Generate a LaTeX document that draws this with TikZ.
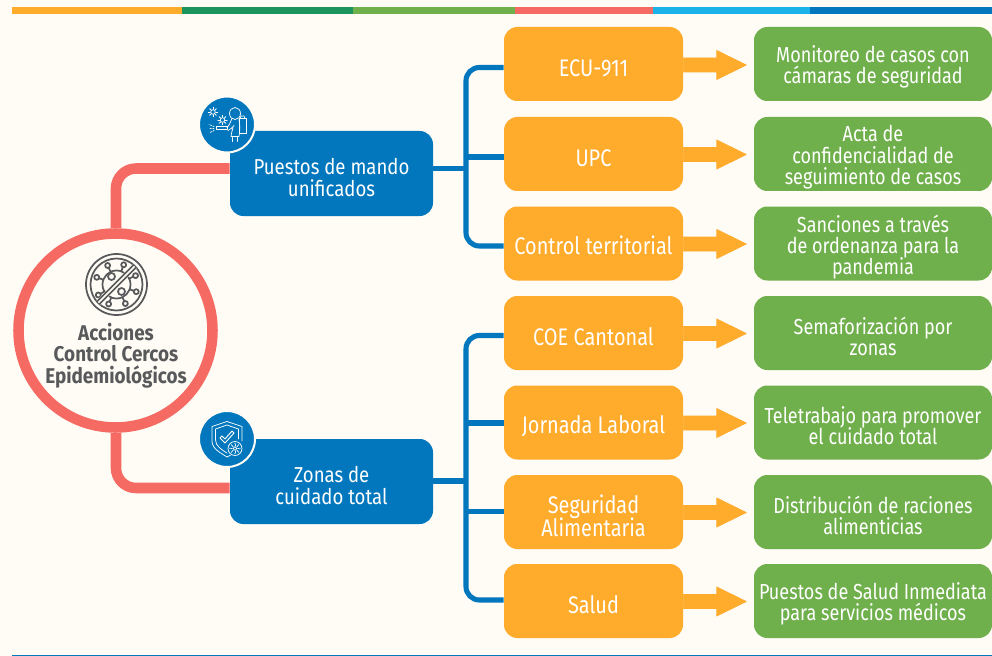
\documentclass[tikz,border=0pt]{standalone}
\usepackage{fontspec}
\setmainfont[FakeStretch=0.83]{Fira Sans}
\newfontfamily\boldf[FakeStretch=0.885]{Fira Sans}
\newfontfamily\medf[FakeStretch=0.83]{Fira Sans}
\newfontfamily\bluef[FakeStretch=0.86]{Fira Sans}
\definecolor{bgc}{HTML}{FFFBF5}
\definecolor{orng}{HTML}{FFAB2B}
\definecolor{grn}{HTML}{70B04C}
\definecolor{dgrn}{HTML}{1C945E}
\definecolor{rd}{HTML}{F56B64}
\definecolor{lblue}{HTML}{1AB2E8}
\definecolor{blu}{HTML}{0277BD}
\definecolor{gry}{HTML}{58595B}
\newcommand{\fs}[2]{\fontsize{#1}{#2}\selectfont}
\tikzset{
 x=0.75pt,y=-0.75pt,
 base/.style={rectangle,rounded corners=10pt,inner sep=0},
 txt/.style={inner sep=0,align=center,text=white,execute at begin node={\lineskiplimit=-100pt\relax}},
 orbox/.style={base,fill=orng,minimum width=134.25pt,minimum height=55.5pt},
 grbox/.style={base,fill=grn,minimum width=178.5pt,minimum height=55.5pt},
 blbox/.style={base,fill=blu,minimum width=152.25pt,minimum height=63.75pt},
 ortxt/.style={txt,font=\medf\fs{18}{17.25}},
 grtxt/.style={txt,font=\fs{16.3}{15.8}},
 bltxt/.style={txt,font=\bluef\fs{16.2}{15.8}},
 redl/.style={draw=rd,line width=7.9pt,rounded corners=15pt},
 bluel/.style={draw=blu,line width=3.8pt,rounded corners=10pt},
 bluestem/.style={draw=blu,line width=3.8pt},
 arr/.style={fill=orng,draw=orng,line width=0.5pt,line join=round},
 ic/.style={draw=white,line width=0.55pt,line cap=round,line join=round},
 vi/.style={draw=gry,line width=1.3pt,line cap=round,line join=round},
}
% #1 box style, #2 text style, #3 name, #4 x, #5 y, #6 text drop, #7 text
\newcommand{\bx}[7]{\node[#1] (#3) at (#4,#5) {};
 \node[#2,yshift=-#6] (#3t) at (#3.center) {#7};}
\newcommand{\arrowfrom}[2]{\coordinate (tmpy) at (0,#2);
 \path[arr] (#1.east |- tmpy) ++(0,-7) -- ++(33.5,0) -- ++(0,-7.5) -- ++(29.5,14.5) -- ++(-29.5,14.5) -- ++(0,-7.5) -- ++(-33.5,0) -- cycle;}
\begin{document}
\begin{tikzpicture}
\useasboundingbox (0,0) rectangle (992,656);
\fill[bgc] (0,0) rectangle (992,656);
\fill[orng] (12,7) rectangle (182,14);
\fill[dgrn] (182,7) rectangle (353,14);
\fill[grn] (353,7) rectangle (515,14);
\fill[rd] (515,7) rectangle (653,14);
\fill[lblue] (653,7) rectangle (810,14);
\fill[blu] (810,7) rectangle (992,14);
\draw[blu,line width=0.75pt] (12,655.5) -- (992,655.5);

% hub
\node[circle,draw=rd,line width=7.9pt,fill=bgc,minimum size=145.5pt,inner sep=0] (hub) at (115.5,330.5) {};
\node[font=\boldf\bfseries\fs{16}{16.3},text=gry,align=center,inner sep=0] (hubt) at (116,355.5) {Acciones\\Control Cercos\\Epidemiológicos};

% blue boxes
\bx{blbox}{bltxt}{p1}{331.5}{173.5}{3pt}{Puestos de mando\\unificados}
\bx{blbox}{bltxt}{p2}{331.5}{481.5}{3pt}{Zonas de\\cuidado total}

% orange
\bx{orbox}{ortxt}{a1}{593.5}{64}{3pt}{ECU-911}
\bx{orbox}{ortxt}{a2}{593.5}{154}{3pt}{UPC}
\bx{orbox}{ortxt}{a3}{593.5}{243.5}{1.2pt}{Control territorial}
\bx{orbox}{ortxt}{a4}{593.5}{333}{3pt}{COE Cantonal}
\bx{orbox}{ortxt}{a5}{593.5}{422.5}{3pt}{Jornada Laboral}
\bx{orbox}{ortxt}{a6}{593.5}{512}{2.6pt}{Seguridad\\Alimentaria}
\bx{orbox}{ortxt}{a7}{593.5}{601}{3pt}{Salud}

% green
\bx{grbox}{grtxt}{g1}{873}{64}{2.4pt}{Monitoreo de casos con\\cámaras de seguridad}
\bx{grbox}{grtxt}{g2}{873}{154}{2.4pt}{Acta de\\confidencialidad de\\seguimiento de casos}
\bx{grbox}{grtxt}{g3}{873}{243.5}{2.4pt}{Sanciones a través\\de ordenanza para la\\pandemia}
\bx{grbox}{grtxt}{g4}{873}{333}{2.4pt}{Semaforización por\\zonas}
\bx{grbox}{grtxt}{g5}{873}{422.5}{2.4pt}{Teletrabajo para promover\\el cuidado total}
\bx{grbox}{grtxt}{g6}{873}{512}{2.4pt}{Distribución de raciones\\alimenticias}
\bx{grbox}{grtxt}{g7}{873}{601}{2.4pt}{Puestos de Salud Inmediata\\para servicios médicos}

% connectors
\coordinate (c1) at (116,168.5);
\coordinate (c2) at (116,488);
\draw[redl] (hub.north -| c1) -- (c1) -- (p1.west |- c1);
\draw[redl] (hub.south -| c2) -- (c2) -- (p2.west |- c2);
\coordinate (t1) at (466,67.5);
\coordinate (m1) at (466,157);
\coordinate (s1) at (466,168.5);
\coordinate (b1) at (466,246);
\coordinate (t2) at (466,335.5);
\coordinate (s2) at (466,481);
\coordinate (m2) at (466,423);
\coordinate (m3) at (466,511.5);
\coordinate (b2) at (466,600);
\draw[bluel] (a1.west |- t1) -- (t1) -- (b1) -- (a3.west |- b1);
\draw[bluel] (a4.west |- t2) -- (t2) -- (b2) -- (a7.west |- b2);
\draw[bluestem] (p1.east |- s1) -- (s1);
\draw[bluestem] (m1) -- (a2.west |- m1);
\draw[bluestem] (p2.east |- s2) -- (s2);
\draw[bluestem] (m2) -- (a5.west |- m2);
\draw[bluestem] (m3) -- (a6.west |- m3);

% arrows
\arrowfrom{a1}{65}
\arrowfrom{a2}{154.5}
\arrowfrom{a3}{244}
\arrowfrom{a4}{333.5}
\arrowfrom{a5}{423}
\arrowfrom{a6}{512.5}
\arrowfrom{a7}{601.5}

% icon discs
\node[circle,fill=blu,draw=bgc,line width=1.5pt,minimum size=42pt,inner sep=0] (d1) at (227,124.5) {};
\node[circle,fill=blu,draw=bgc,line width=1.5pt,minimum size=42pt,inner sep=0] (d2) at (227,439) {};

% virus-ban icon
\begin{scope}[shift={(116.5,284.5)}]
\draw[vi] (0,0) circle (30.5);
\draw[vi] (0,0) circle (26);
\draw[vi] (0,0) circle (14);
\foreach \a in {20,65,112,150,200,245,290,335}{
 \draw[vi] (\a:14) -- (\a:18.5);
 \draw[vi] (\a:21) circle (2.5);}
\fill[bgc] (-20,16) -- (16,-20) -- (20,-16) -- (-16,20) -- cycle;
\draw[vi] (-19.5,17) -- (17,-19.5);
\draw[vi] (-17,19.5) -- (19.5,-17);
\draw[vi] (-5,-8) circle (3.5);
\draw[vi] (5,7) circle (3.5);
\end{scope}

% sprayer icon
\begin{scope}[shift={(227,124.5)}]
\foreach \cx/\cy in {-14/-12.5,-4.5/-4.5}{
 \draw[ic] (\cx,\cy) circle (2.3);
 \foreach \a in {0,45,...,315}{\draw[ic] (\cx,\cy)++(\a:2.8) -- ++(\a:2);}
}
\draw[ic] (8,-11) ellipse (5.5 and 6);
\draw[ic] (5,-6) .. controls (3,-2) and (3,0) .. (0,3);
\draw[ic] (1,6) .. controls (4,5) and (5,3) .. (7,1);
\draw[ic] (6,3) .. controls (5,7) and (4,10) .. (4,12) -- (12,12) .. controls (13,6) and (13,0) .. (12,-5);
\draw[ic] (12,-6) rectangle (19,9);
\draw[ic] (13,-6) -- (14,-8.5) -- (17,-8.5) -- (18,-6);
\draw[ic,line width=0.75pt] (-11,2.5) rectangle (0,5.5);
\draw[ic] (5.5,13) -- (5.5,17) (10,13) -- (10,17);
\draw[ic,dash pattern=on 1pt off 1pt] (-13,4) -- (-18,4) (-13,2) -- (-18,0) (-13,6) -- (-17,8);
\end{scope}

% shield icon
\begin{scope}[shift={(227,439)}]
\draw[ic] (0,-17.5) -- (-15,-12.5) -- (-15,2) .. controls (-15,10) and (-6,14) .. (0,18) .. controls (3,16.5) and (4,16) .. (5,15);
\draw[ic] (0,-17.5) -- (15,-12.5) -- (15,2);
\draw[ic] (0,-14) -- (-11.5,-10) -- (-11.5,1) .. controls (-11.5,7) and (-5,11) .. (0,14);
\draw[ic] (0,-14) -- (11.5,-10) -- (11.5,0);
\draw[ic,line width=0.7pt] (-7,-1) -- (-2,4) -- (7,-6) -- (5,-8) -- (-2,0) -- (-5,-3) -- cycle;
\fill[blu] (8,9.5) circle (8);
\draw[ic] (8,9.5) circle (7);
\draw[ic] (8,9.5) circle (1.8);
\foreach \a in {0,45,...,315}{\draw[ic] (8,9.5)++(\a:2.8) -- ++(\a:1.2); \fill[white] (8,9.5)++(\a:5) circle (0.7);}
\end{scope}
\end{tikzpicture}
\end{document}
